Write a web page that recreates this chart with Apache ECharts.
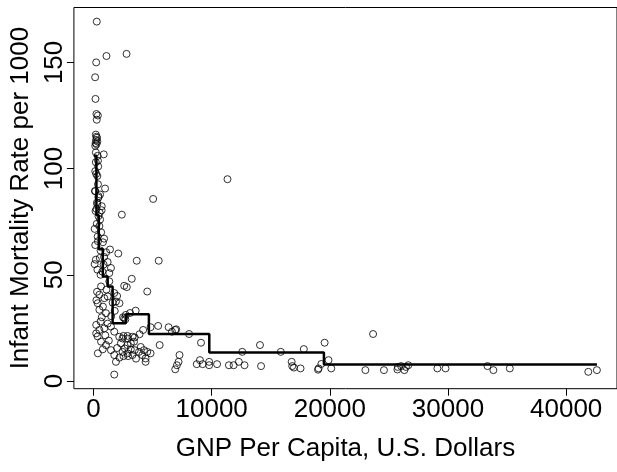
<!DOCTYPE html>
<html>
<head>
<meta charset="utf-8">
<script src="https://cdn.jsdelivr.net/npm/echarts@6/dist/echarts.min.js"></script>
<style>html,body{margin:0;padding:0;background:#fff}#c{width:617px;height:472px}</style>
</head>
<body>
<div id="c"></div>
<script>
// GNP per capita (US$) and infant mortality (per 1000)
var gnp = [
 280,1100,2800,230,140,170,250,370,280,
 200,250,300,220,330,180,260,
 150,200,870,350,200,380,150,330,230,400,
 150,980,430,5050,380,130,560,420,330,700,180,530,690,420,560,2400,300,250,
 100,500,280,380,800,1400,600,1070,2100,350,650,150,900,
 200,530,900,330,860,1480,1340,3660,5520,3240,100,600,1200,750,
 2600,2820,4550,640,1340,1760,500,1200,1900,360,920,1620,2200,500,1060,250,800,1500,300,1100,2000,700,1800,3100,2500,3570,2740,2600,
 230,500,230,920,1480,1760,2180,2460,2880,3300,4830,5470,6360,6920,6640,7000,8090,600,1200,2700,3900,4200,350,1000,2540,2880,3490,
 2320,2880,3430,640,1060,370,790,1480,1760,2460,2880,3300,3850,4130,4550,5600,9100,7280,12590,14090,15850,17800,19560,2000,3600,1300,4000,2200,3160,2650,3160,3490,2540,2930,4270,4830,4410,
 4410,1900,1760,7060,6920,7200,8740,9010,9240,9790,9790,10460,11460,11860,12300,12780,14180,16770,16820,16960,17520,19890,19050,19000,19280,20120,
 11340,23660,23010,24580,25720,26030,26310,26440,26640,25750,29100,29790,33340,33840,35230,41870,42600
];
var infantMortality = [
 169.2,153,154,150,143,132.8,125.7,125,123,
 116,115,114.5,113.5,112.8,112,111.5,
 110.7,107.6,106.7,106,103,103.7,98.8,96.5,97.5,101,
 89.4,90.6,87,85.7,92.6,89.4,87.8,86.3,83.2,82.3,80,79.2,80.4,77.6,76,78.3,84,81,
 71.6,72.9,74,65.8,65.3,61.9,61.4,60.6,60,68,70,64,67,
 57.1,57.9,58.4,52.4,54.8,53.2,50.8,56.6,56.6,48.1,55,50,56,51.5,
 44.8,44.2,42.1,44.5,46.9,41.4,40.6,39.8,37.4,36.6,39,36.9,36.6,33.5,31.9,38,35,30.5,42,43,40,30,33,32,30,33.1,31.1,29.5,
 26.4,24,22.4,24.8,25.6,23.2,20.8,20,21.2,20.8,25.3,25.9,25.3,24,23.2,24.3,22.1,28,27,29,22,24,21,21.5,21.2,20,20.5,
 17.7,16.9,18.5,18.5,16.9,13,14.9,14.5,12.2,13.7,13,12.2,13.7,12.2,13.7,16.9,18,12.2,13.7,16.9,13.7,15,18,15.5,10.5,19,16,11,17.7,15.3,14.9,14.5,11.7,11.7,14.5,13,10.6,
 9,9,3,7.4,5.5,9,7.9,9.8,7.9,9,7.4,7.9,7.4,7.4,9,7.4,7,9,7,6.3,5.9,9.8,5.9,5.3,8,5.9,
 95,22.1,5.1,5.1,5.4,7,5.1,6.6,7.4,6.6,5.9,5.9,7,5.1,5.9,4.3,5.1
];
// binned means (regressogram): bin edges and mean mortality per bin
var binEdges = [36, 250, 450, 790, 1200, 1620, 2740, 4690, 9800, 19500, 42600];
var binMeans = [106, 78, 62, 49.2, 44.5, 27.2, 31.4, 22.1, 13.4, 7.8];
var xTicks = [0, 10000, 20000, 30000, 40000];
var yTicks = [0, 50, 100, 150];

var points = gnp.map(function (g, i) { return [g, infantMortality[i]]; });
var stepPts = [];
for (var i = 0; i < binMeans.length; i++) {
  stepPts.push([binEdges[i], binMeans[i]]);
  stepPts.push([binEdges[i + 1], binMeans[i]]);
}

var chart = echarts.init(document.getElementById('c'), null, {renderer: 'canvas'});
var font = '"Liberation Sans", Arial, sans-serif';
var plain = function (v) { return String(v); };
chart.setOption({
  animation: false,
  backgroundColor: '#fff',
  grid: {left: 72.5, top: 7.5, width: 549.5, height: 381.2, show: true, borderColor: '#000', borderWidth: 1, backgroundColor: 'transparent'},
  xAxis: {
    type: 'value', min: -1656, max: 44300,
    axisLine: {show: false, onZero: false}, splitLine: {show: false},
    axisTick: {show: true, length: 7, customValues: xTicks, lineStyle: {color: '#000'}},
    axisLabel: {customValues: xTicks, formatter: plain, color: '#000', fontSize: 26, fontFamily: font, margin: 8},
    name: 'GNP Per Capita, U.S. Dollars', nameLocation: 'middle', nameGap: 47,
    nameTextStyle: {color: '#000', fontSize: 26, fontFamily: font}
  },
  yAxis: {
    type: 'value', min: -3.65, max: 175.85,
    axisLine: {show: false, onZero: false}, splitLine: {show: false},
    axisTick: {show: true, length: 7, customValues: yTicks, lineStyle: {color: '#000'}},
    axisLabel: {customValues: yTicks, formatter: plain, color: '#000', fontSize: 26, fontFamily: font, rotate: 90, margin: 6},
    name: 'Infant Mortality Rate per 1000', nameLocation: 'middle', nameGap: 31,
    nameTextStyle: {color: '#000', fontSize: 26, fontFamily: font}
  },
  series: [
    {type: 'scatter', data: points, symbol: 'circle', symbolSize: 7,
     itemStyle: {color: 'transparent', borderColor: '#000', borderWidth: 1}, silent: true},
    {type: 'line', data: stepPts, symbol: 'none', lineStyle: {color: '#000', width: 2.5}, silent: true, z: 3}
  ]
});
</script>
</body>
</html>
